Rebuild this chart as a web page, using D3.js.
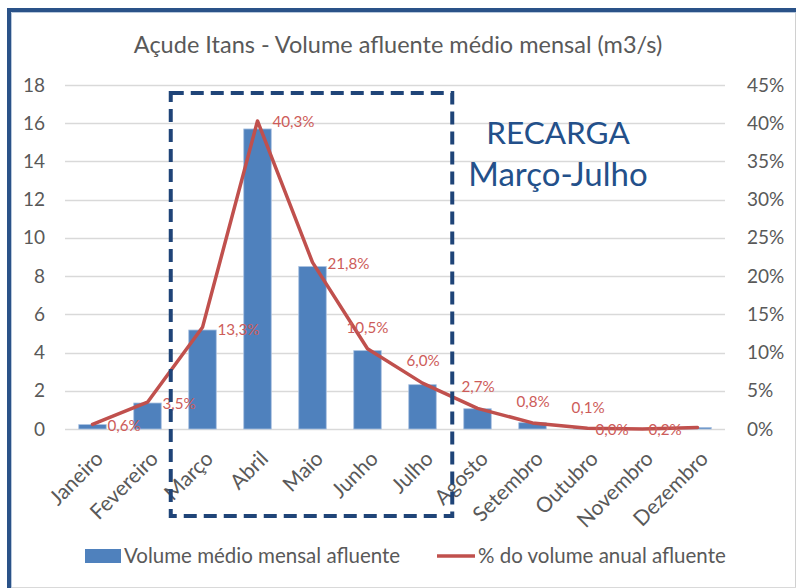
<!DOCTYPE html>
<html>
<head>
<meta charset="utf-8">
<script src="https://cdn.jsdelivr.net/npm/d3@7"></script>
<style>
  body { margin: 0; background: #fff; }
  text { font-family: Lato, "Open Sans", sans-serif; }
</style>
</head>
<body>
<div id="chart"></div>
<script>
// monthly data
const months = ["Janeiro", "Fevereiro", "Março", "Abril", "Maio", "Junho",
                "Julho", "Agosto", "Setembro", "Outubro", "Novembro", "Dezembro"];
const volume = [0.23, 1.36, 5.18, 15.7, 8.5, 4.1, 2.32, 1.06, 0.33, 0.04, 0.0, 0.08];
const percent = [0.6, 3.5, 13.3, 40.3, 21.8, 10.5, 6.0, 2.7, 0.8, 0.1, 0.0, 0.2];
const percentLabels = ["0,6%", "3,5%", "13,3%", "40,3%", "21,8%", "10,5%",
                       "6,0%", "2,7%", "0,8%", "0,1%", "0,0%", "0,2%"];
const leftTicks = [0, 2, 4, 6, 8, 10, 12, 14, 16, 18];
const rightTicks = [0, 5, 10, 15, 20, 25, 30, 35, 40, 45];

// label nudges (Excel had them dragged around)
const labelShift = [[15, 1], [15, 1], [15, 2], [15, 1], [15, 1], [-21, -21],
                    [-16, -22], [-16, -22], [-16, -21], [-16, -21], [-47, 1], [-49, 2]];

const w = 796, h = 588;
const plotL = 65, plotR = 725, plotT = 85, plotB = 429;

const svg = d3.select("#chart").append("svg")
  .attr("width", w).attr("height", h);

// outer frame
svg.append("line").attr("x1", 795.5).attr("x2", 795.5).attr("y1", 10).attr("y2", 588)
  .attr("stroke", "#d0d0d0");
svg.append("line").attr("x1", 9).attr("x2", 796).attr("y1", 587.5).attr("y2", 587.5)
  .attr("stroke", "#d9d9d9");
svg.append("path").attr("d", "M9,588 V10 H796")
  .attr("fill", "none").attr("stroke", "#2a5288").attr("stroke-width", 4);
svg.append("path").attr("d", "M11.5,588 V12.5 H796")
  .attr("fill", "none").attr("stroke", "#b8c8dc").attr("stroke-width", 1);

const x = d3.scaleBand().domain(months).range([plotL, plotR]).paddingInner(0.5).paddingOuter(0.25);
const xc = d => x(d) + x.bandwidth() / 2;
const y = d3.scaleLinear().domain([0, 18]).range([plotB, plotT]);
const y2 = d3.scaleLinear().domain([0, 45]).range([plotB, plotT]);

// title
svg.append("text")
  .attr("x", 398).attr("y", 53)
  .attr("text-anchor", "middle")
  .attr("font-size", 23.5)
  .attr("fill", "#595959")
  .text("Açude Itans - Volume afluente médio mensal (m3/s)");

// gridlines
svg.append("g").selectAll("line").data(leftTicks).join("line")
  .attr("x1", plotL).attr("x2", plotR)
  .attr("y1", d => Math.round(y(d)) + 0.5).attr("y2", d => Math.round(y(d)) + 0.5)
  .attr("stroke", "#d9d9d9").attr("stroke-width", 1.3);

// axes
const yAxis = d3.axisLeft(y).tickValues(leftTicks).tickSize(0).tickPadding(0);
svg.append("g").attr("transform", `translate(${plotL - 20},0)`).call(yAxis)
  .call(g => g.select(".domain").remove())
  .selectAll("text").attr("font-size", 19).attr("fill", "#595959")
  .attr("font-family", "Lato, sans-serif");

const y2Axis = d3.axisRight(y2).tickValues(rightTicks).tickSize(0).tickPadding(0)
  .tickFormat(d => d + "%");
svg.append("g").attr("transform", `translate(${plotR + 22},0)`).call(y2Axis)
  .call(g => g.select(".domain").remove())
  .selectAll("text").attr("font-size", 19).attr("fill", "#595959")
  .attr("font-family", "Lato, sans-serif");

// bars
svg.append("g").selectAll("rect").data(volume).join("rect")
  .attr("x", (d, i) => x(months[i]))
  .attr("y", d => y(d))
  .attr("width", x.bandwidth())
  .attr("height", d => y(0) - y(d))
  .attr("fill", "#4f81bd")
  .attr("stroke", "#a9c1e0").attr("stroke-width", 0.8);

// percentage line
const line = d3.line().x((d, i) => xc(months[i])).y(d => y2(d));
svg.append("path").datum(percent)
  .attr("d", line)
  .attr("fill", "none")
  .attr("stroke", "#c0504d")
  .attr("stroke-width", 3.5)
  .attr("stroke-linejoin", "round")
  .attr("stroke-linecap", "round");

svg.append("g").selectAll("text").data(percent).join("text")
  .attr("x", (d, i) => xc(months[i]) + labelShift[i][0])
  .attr("y", (d, i) => y2(d) + labelShift[i][1])
  .attr("dy", "0.35em")
  .attr("font-size", 15.2)
  .attr("fill", "#cd5c59")
  .text((d, i) => percentLabels[i]);

// x labels
svg.append("g").selectAll("text").data(months).join("text")
  .attr("transform", d => `translate(${xc(d) + 12},${plotB + 31}) rotate(-45)`)
  .attr("text-anchor", "end")
  .attr("font-size", 21)
  .attr("fill", "#595959")
  .text(d => d);

// recharge window
const bx0 = x("Março") - 18, bx1 = x("Julho") + x.bandwidth() + 16;
svg.append("rect")
  .attr("x", bx0).attr("y", 93)
  .attr("width", bx1 - bx0).attr("height", 516 - 93)
  .attr("fill", "none")
  .attr("stroke", "#1f4478").attr("stroke-width", 4)
  .attr("stroke-dasharray", "13 7");

svg.append("text").attr("x", 558).attr("y", 144)
  .attr("text-anchor", "middle").attr("font-size", 31.5).attr("fill", "#23508a")
  .text("RECARGA");
svg.append("text").attr("x", 558).attr("y", 186)
  .attr("text-anchor", "middle").attr("font-size", 33).attr("fill", "#23508a")
  .text("Março-Julho");

// legend
const lg = svg.append("g");
lg.append("rect").attr("x", 85).attr("y", 549).attr("width", 36).attr("height", 14)
  .attr("fill", "#4f81bd");
lg.append("text").attr("x", 124).attr("y", 563).attr("font-size", 20.5).attr("fill", "#595959")
  .text("Volume médio mensal afluente");
lg.append("line").attr("x1", 437).attr("x2", 475).attr("y1", 556).attr("y2", 556)
  .attr("stroke", "#c0504d").attr("stroke-width", 3.5);
lg.append("text").attr("x", 478).attr("y", 563).attr("font-size", 20.5).attr("fill", "#595959")
  .text("% do volume anual afluente");
</script>
</body>
</html>
